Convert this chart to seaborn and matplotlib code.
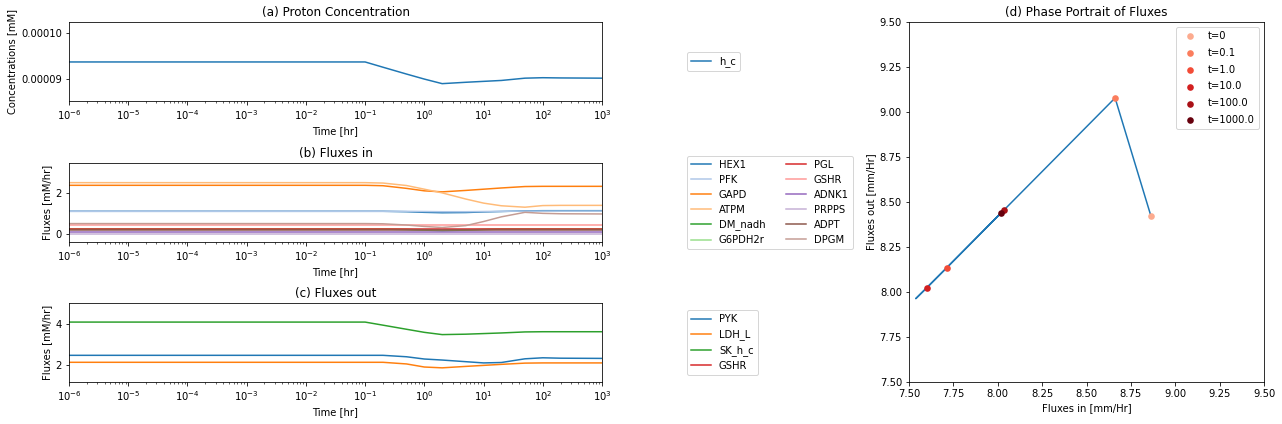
import numpy as np
import matplotlib
matplotlib.use('Agg')
import matplotlib.pyplot as plt
from matplotlib import cm
from matplotlib.ticker import FormatStrFormatter
import seaborn as sns

#### #### #### #### #### #### #### #### #### #### #### #### #### #### #### ####
#### DATA

time = [1e-6, 1e-1, 0.2, 0.5, 1, 2, 5, 10, 20, 50, 100, 200, 1000]

# (a) proton concentration [mM]
h_c = [9.375e-5, 9.375e-5, 9.26e-5, 9.11e-5, 9.00e-5, 8.90e-5, 8.93e-5,
       8.95e-5, 8.97e-5, 9.02e-5, 9.03e-5, 9.025e-5, 9.02e-5]

# (b) fluxes in [mM/hr]
flux_in_names = ['HEX1', 'PFK', 'GAPD', 'ATPM', 'DM_nadh', 'G6PDH2r',
                 'PGL', 'GSHR', 'ADNK1', 'PRPPS', 'ADPT', 'DPGM']
HEX1 = [1.12, 1.12, 1.12, 1.10, 1.07, 1.05, 1.06, 1.09, 1.11, 1.14, 1.15, 1.15, 1.15]
PFK = [1.12, 1.12, 1.12, 1.12, 1.11, 1.10, 1.10, 1.11, 1.12, 1.13, 1.13, 1.13, 1.13]
GAPD = [2.39, 2.39, 2.37, 2.24, 2.12, 2.07, 2.14, 2.20, 2.26, 2.33, 2.34, 2.34, 2.34]
ATPM = [2.52, 2.52, 2.50, 2.38, 2.20, 2.02, 1.72, 1.52, 1.39, 1.32, 1.40, 1.41, 1.41]
DM_nadh = [0.25, 0.25, 0.25, 0.23, 0.20, 0.17, 0.20, 0.23, 0.25, 0.25, 0.25, 0.25, 0.25]
G6PDH2r = [0.25, 0.25, 0.25, 0.24, 0.22, 0.21, 0.22, 0.24, 0.25, 0.25, 0.25, 0.25, 0.25]
PGL = [0.25] * 13
GSHR_in = [0.44] * 13
ADNK1 = [0.12] * 13
PRPPS = [0.03] * 13
ADPT = [0.21] * 13
DPGM = [0.52, 0.52, 0.51, 0.45, 0.38, 0.33, 0.42, 0.62, 0.85, 1.07, 1.02, 1.00, 0.99]
flux_in_vals = [HEX1, PFK, GAPD, ATPM, DM_nadh, G6PDH2r,
                PGL, GSHR_in, ADNK1, PRPPS, ADPT, DPGM]

# (c) fluxes out [mM/hr]
flux_out_names = ['PYK', 'LDH_L', 'SK_h_c', 'GSHR']
PYK = [2.47, 2.47, 2.47, 2.40, 2.29, 2.24, 2.16, 2.10, 2.12, 2.30, 2.35, 2.33, 2.32]
LDH_L = [2.13, 2.13, 2.13, 2.05, 1.90, 1.86, 1.93, 1.98, 2.03, 2.09, 2.10, 2.10, 2.10]
SK_h_c = [4.09, 4.09, 3.94, 3.74, 3.59, 3.48, 3.50, 3.53, 3.56, 3.61, 3.62, 3.62, 3.62]
GSHR_out = [0.44] * 13
flux_out_vals = [PYK, LDH_L, SK_h_c, GSHR_out]

# (d) phase portrait
traj_in = [8.863, 8.661, 7.714, 7.538, 7.601, 8.035, 8.018]
traj_out = [8.422, 9.078, 8.136, 7.963, 8.024, 8.456, 8.441]
pt_labels = ['t=0', 't=0.1', 't=1.0', 't=10.0', 't=100.0', 't=1000.0']
pt_in = [8.863, 8.661, 7.714, 7.601, 8.035, 8.018]
pt_out = [8.422, 9.078, 8.136, 8.024, 8.456, 8.441]


#### #### #### #### #### #### #### #### #### #### #### #### #### #### #### ####
#### PLOT

W, H = 1282, 424
dpi = 72
fig = plt.figure(figsize=(W / dpi, H / dpi), dpi=dpi)

def px_axes(x0, x1, y0, y1):
    return fig.add_axes([x0 / W, 1 - y1 / H, (x1 - x0) / W, (y1 - y0) / H])

ax_a = px_axes(69, 602, 22, 101)
ax_b = px_axes(69, 602, 163, 242)
ax_c = px_axes(69, 602, 303, 382)
ax_d = px_axes(909, 1264, 22, 382)

tab10 = sns.color_palette('tab10')
tab20 = sns.color_palette('tab20')
xticks = 10.0 ** np.arange(-6, 4)

# (a)
sns.lineplot(x=time, y=h_c, ax=ax_a, color=tab10[0], label='h_c')
ax_a.set_ylim(8.52e-5, 1.025e-4)
ax_a.set_yticks([9e-5, 1e-4])
ax_a.yaxis.set_major_formatter(FormatStrFormatter('%.5f'))
ax_a.set_ylabel('Concentrations [mM]')
ax_a.set_title('(a) Proton Concentration')

# (b)
for i, (name, vals) in enumerate(zip(flux_in_names, flux_in_vals)):
    sns.lineplot(x=time, y=vals, ax=ax_b, color=tab20[i], label=name)
ax_b.set_ylim(-0.38, 3.48)
ax_b.set_yticks([0, 2])
ax_b.set_ylabel('Fluxes [mM/hr]')
ax_b.set_title('(b) Fluxes in')

# (c)
for i, (name, vals) in enumerate(zip(flux_out_names, flux_out_vals)):
    sns.lineplot(x=time, y=vals, ax=ax_c, color=tab10[i], label=name)
ax_c.set_ylim(1.17, 5.02)
ax_c.set_yticks([2, 4])
ax_c.set_ylabel('Fluxes [mM/hr]')
ax_c.set_title('(c) Fluxes out')

for ax, ncol in zip([ax_a, ax_b, ax_c], [1, 2, 1]):
    ax.set_xscale('log')
    ax.set_xlim(1e-6, 1e3)
    ax.set_xticks(xticks)
    ax.set_xlabel('Time [hr]')
    ax.legend(loc='center left', bbox_to_anchor=(1.15, 0.5), ncol=ncol)

# (d)
sns.lineplot(x=traj_in, y=traj_out, ax=ax_d, sort=False, color=tab10[0])
reds = cm.Reds(np.linspace(0.3, 1.0, len(pt_labels)))
for lab, xi, yi, c in zip(pt_labels, pt_in, pt_out, reds):
    sns.scatterplot(x=[xi], y=[yi], ax=ax_d, color=c, s=44, linewidth=0, label=lab, zorder=3)
ax_d.set_xlim(7.5, 9.5)
ax_d.set_ylim(7.5, 9.5)
ax_d.set_xlabel('Fluxes in [mm/Hr]')
ax_d.set_ylabel('Fluxes out [mm/Hr]')
ax_d.set_title('(d) Phase Portrait of Fluxes')
ax_d.legend(loc='upper right', labelspacing=0.68)

fig.savefig('out.png', dpi=dpi)
